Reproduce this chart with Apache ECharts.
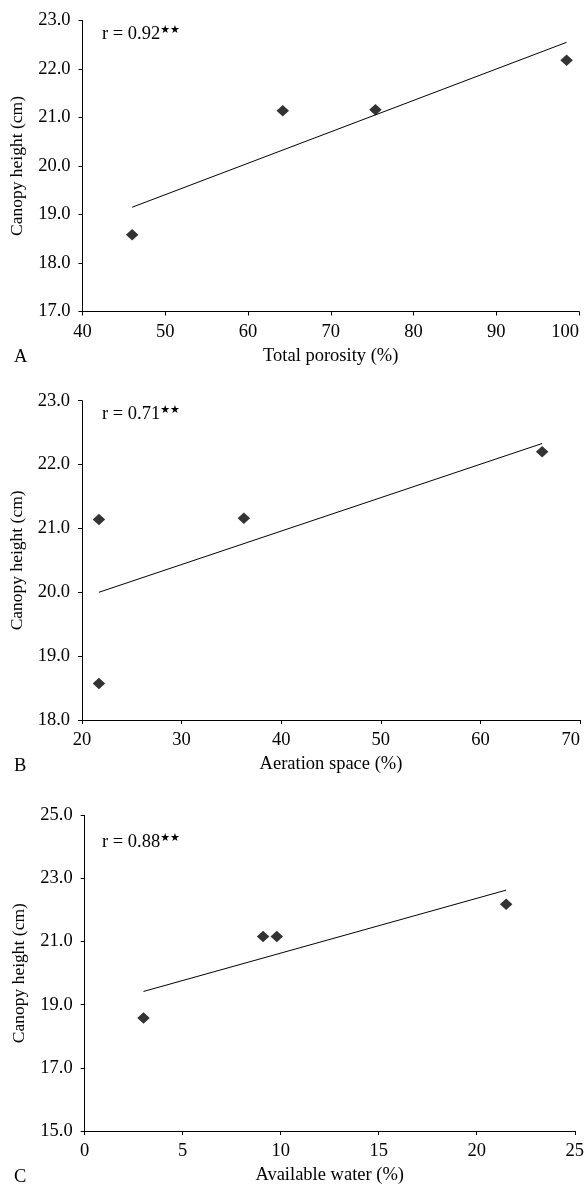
<!DOCTYPE html>
<html>
<head>
<meta charset="utf-8">
<script src="https://cdn.jsdelivr.net/npm/echarts@6/dist/echarts.min.js"></script>
<style>
html,body{margin:0;padding:0;background:#fff;}
#chart{width:587px;height:1186px;}
</style>
</head>
<body>
<div id="chart"></div>
<script>
// Panel A: Total porosity
const xA = [46.0, 64.2, 75.4, 98.5];
const yA = [18.58, 21.14, 21.16, 22.18];
const trendAx = [46.0, 98.5];
const trendAy = [19.15, 22.55];
// Panel B: Aeration space
const xB = [21.7, 21.7, 36.25, 66.2];
const yB = [21.14, 18.57, 21.16, 22.20];
const trendBx = [21.7, 66.2];
const trendBy = [20.0, 22.33];
// Panel C: Available water
const xC = [3.0, 9.1, 9.8, 21.5];
const yC = [18.58, 21.16, 21.16, 22.18];
const trendCx = [3.0, 21.5];
const trendCy = [19.42, 22.63];

const panelLetters = ['A', 'B', 'C'];
const xNames = ['Total porosity (%)', 'Aeration space (%)', 'Available water (%)'];
const yName = 'Canopy height (cm)';
const rLabels = ['r = 0.92', 'r = 0.71', 'r = 0.88'];
const xRanges = [[40, 100, 10], [20, 70, 10], [0, 25, 5]];
const yRanges = [[17, 23, 1], [18, 23, 1], [15, 25, 2]];

const FONT = 'Liberation Serif';
const FS = 18.5;

const grids = [
  {left: 82.5, right: 8, top: 20.5, height: 291},
  {left: 81.7, right: 7, top: 400.7, height: 319.3},
  {left: 84.7, right: 5, top: 815.3, height: 319}
];

function zip(a, b) { return a.map((v, i) => [v, b[i]]); }
const pts = [zip(xA, yA), zip(xB, yB), zip(xC, yC)];
const trends = [zip(trendAx, trendAy), zip(trendBx, trendBy), zip(trendCx, trendCy)];

const axisLine = {show: true, lineStyle: {color: '#000', width: 1}};
const axisTick = {show: true, inside: false, length: 4, lineStyle: {color: '#000', width: 1}};
const maxAlign = ['right', 'right', 'center'];

const xAxis = xRanges.map((r, i) => ({
  type: 'value', gridIndex: i, min: r[0], max: r[1], interval: r[2],
  name: xNames[i], nameLocation: 'middle', nameGap: 35,
  nameTextStyle: {fontFamily: FONT, fontSize: FS, color: '#000'},
  axisLine, axisTick, splitLine: {show: false},
  axisLabel: {fontFamily: FONT, fontSize: FS, color: '#000', margin: 11,
    alignMaxLabel: maxAlign[i]}
}));
const yAxis = yRanges.map((r, i) => ({
  type: 'value', gridIndex: i, min: r[0], max: r[1], interval: r[2],
  name: yName, nameLocation: 'middle', nameGap: 56,
  nameTextStyle: {fontFamily: FONT, fontSize: 17.5, color: '#000'},
  axisLine, axisTick, splitLine: {show: false},
  axisLabel: {fontFamily: FONT, fontSize: FS, color: '#000', margin: 12,
    formatter: v => v.toFixed(1)}
}));

const series = [];
for (let i = 0; i < 3; i++) {
  series.push({
    type: 'line', xAxisIndex: i, yAxisIndex: i, data: trends[i],
    showSymbol: false, symbol: 'none', silent: true,
    lineStyle: {color: '#000', width: 1}
  });
  series.push({
    type: 'scatter', xAxisIndex: i, yAxisIndex: i, data: pts[i],
    symbol: 'diamond', symbolSize: [12.5, 11.5],
    itemStyle: {color: '#000'}
  });
}

const letterY = [358, 767, 1178];
const rY = [35, 415, 843];
const graphic = [];
for (let i = 0; i < 3; i++) {
  graphic.push({
    type: 'text', left: 14, top: letterY[i] - 10,
    style: {text: panelLetters[i], font: FS + 'px "' + FONT + '"', fill: '#000'}
  });
  graphic.push({
    type: 'text', left: 102, top: rY[i] - 10,
    style: {
      text: rLabels[i] + '{s|★★}',
      font: FS + 'px "' + FONT + '"', fill: '#000',
      rich: {s: {fontSize: 11, fontFamily: 'DejaVu Sans', fill: '#000', verticalAlign: 'top'}}
    }
  });
}

const chart = echarts.init(document.getElementById('chart'));
chart.setOption({
  animation: false,
  backgroundColor: '#fff',
  grid: grids,
  xAxis, yAxis, series, graphic
});
</script>
</body>
</html>
